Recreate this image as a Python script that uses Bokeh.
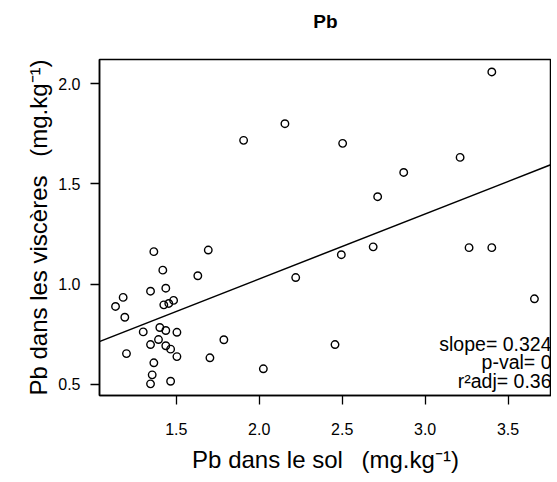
from bokeh.plotting import figure
from bokeh.models import Range1d, FixedTicker, PrintfTickFormatter, Slope, Label, ColumnDataSource, Title
from bokeh.embed import file_html
from bokeh.resources import INLINE

# Soil Pb (x) and viscera Pb (y)
sol = [1.365, 1.693, 1.419, 1.630, 1.345, 1.437, 1.180, 1.134, 1.425, 1.455,
       1.484, 1.190, 1.301, 1.401, 1.437, 1.504, 1.345, 1.393, 1.437, 1.466,
       1.787, 1.200, 1.504, 1.703, 1.365, 1.355, 1.345, 1.466, 3.402, 2.155,
       1.906, 2.503, 3.211, 2.871, 2.714, 2.687, 3.265, 3.402, 2.220, 2.495,
       3.659, 2.457, 2.025]
visceres = [1.162, 1.170, 1.070, 1.042, 0.965, 0.980, 0.934, 0.889, 0.897, 0.904,
            0.919, 0.835, 0.762, 0.784, 0.769, 0.760, 0.699, 0.724, 0.693, 0.676,
            0.723, 0.654, 0.639, 0.633, 0.608, 0.548, 0.503, 0.516, 2.058, 1.800,
            1.717, 1.702, 1.632, 1.557, 1.436, 1.186, 1.182, 1.182, 1.033, 1.147,
            0.927, 0.699, 0.578]

slope = 0.324
intercept = 0.378
stats_lines = ["slope= 0.324", "p-val= 0", "r\u00b2adj= 0.36"]
x_ticks = [1.5, 2.0, 2.5, 3.0, 3.5]
y_ticks = [0.5, 1.0, 1.5, 2.0]
title_text = "Pb"

FONT = "Liberation Sans"
X0, X1 = 1.0374, 3.7618
Y0, Y1 = 0.445, 2.120

p = figure(width=551, height=476,
           x_range=Range1d(X0, X1), y_range=Range1d(Y0, Y1),
           output_backend="svg", toolbar_location=None,
           min_border_left=99, min_border_right=0, min_border_top=59, min_border_bottom=81)

# spacer (nearest the frame), then the real title above it
p.add_layout(Title(text=" ", text_font_size="1px", standoff=19), "above")
p.add_layout(Title(text=title_text, align="center", text_font=FONT, text_font_size="19px",
                   text_font_style="bold", text_color="black", standoff=12), "above")

p.grid.visible = False
p.outline_line_color = "black"
p.outline_line_width = 1.5
p.background_fill_color = "white"
p.border_fill_color = "white"

for ax, ticks in ((p.xaxis[0], x_ticks), (p.yaxis[0], y_ticks)):
    ax.ticker = FixedTicker(ticks=ticks)
    ax.formatter = PrintfTickFormatter(format="%.1f")
    ax.major_tick_out = 9
    ax.major_tick_in = 0
    ax.minor_tick_out = 0
    ax.minor_tick_in = 0
    ax.major_tick_line_color = "black"
    ax.major_tick_line_width = 1.3
    ax.axis_line_color = "black"
    ax.axis_line_width = 1.5
    ax.major_label_text_font = FONT
    ax.major_label_text_font_size = "16px"
    ax.major_label_text_color = "black"
    ax.axis_label_text_font = FONT
    ax.axis_label_text_font_size = "24px"
    ax.axis_label_text_font_style = "normal"
    ax.axis_label_text_color = "black"

p.xaxis.axis_label = "Pb dans le sol\u00a0\u2002(mg.kg\u207b\u00b9)"
p.yaxis.axis_label = "Pb dans les viscères\u00a0\u2002(mg.kg\u207b\u00b9)"
p.xaxis.major_label_standoff = 18
p.xaxis.axis_label_standoff = 8
p.yaxis.major_label_standoff = 10
p.yaxis.axis_label_standoff = 3

src = ColumnDataSource(dict(x=sol, y=visceres))
p.scatter("x", "y", source=src, marker="circle", size=7.5, fill_color=None,
          line_color="black", line_width=1.4)

p.add_layout(Slope(gradient=slope, y_intercept=intercept, line_color="black", line_width=1.5))

stat_y = [0.704, 0.611, 0.519]
for txt, yy in zip(stats_lines, stat_y):
    p.add_layout(Label(x=X1, y=yy, text=txt, text_align="right",
                       text_baseline="middle", text_font=FONT, text_font_size="19.5px",
                       text_color="black"))

open("out.html", "w").write(file_html(p, INLINE))
